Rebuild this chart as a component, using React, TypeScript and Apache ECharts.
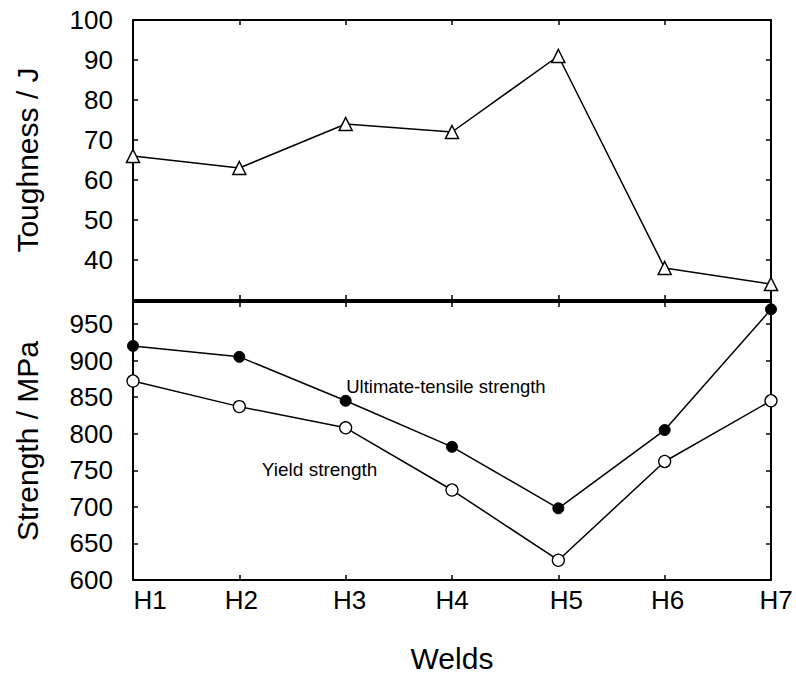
import React, { useEffect, useRef } from "react";
import * as echarts from "echarts";

const categories = ["H1", "H2", "H3", "H4", "H5", "H6", "H7"];
const toughness = [66, 63, 74, 72, 91, 38, 34];
const uts = [920, 905, 845, 782, 698, 805, 970];
const ys = [872, 837, 808, 723, 627, 762, 845];
const toughTicks = [40, 50, 60, 70, 80, 90, 100];
const strengthTicks = [600, 650, 700, 750, 800, 850, 900, 950];

const FONT = "'Liberation Sans', Arial, Helvetica, sans-serif";
// horizontal nudge of the category labels, as left padding (px)
const labelPad: Record<string, number> = { H1: 34, H2: 4, H3: 8, H4: 0, H5: 16, H6: 6, H7: 10 };

export default function App() {
  const ref = useRef<HTMLDivElement>(null);
  useEffect(() => {
    if (!ref.current) return;
    const chart = echarts.init(ref.current, undefined, { renderer: "svg" });
    const line = { color: "#000", width: 2 };
    const tick = { show: true, inside: true, length: 5, lineStyle: { color: "#000", width: 1.5 } };
    const rich: Record<string, any> = {};
    categories.forEach((c, i) => {
      rich["p" + i] = { fontSize: 26, fontFamily: FONT, color: "#000", padding: [0, 0, 0, labelPad[c] || 0] };
    });
    const catAxis = (gridIndex: number, position: string, labels: boolean) => ({
      type: "category",
      gridIndex,
      position,
      data: categories,
      boundaryGap: false,
      axisLine: { show: true, lineStyle: line },
      axisTick: { ...tick, interval: 0 },
      splitLine: { show: false },
      axisLabel: labels
        ? {
            show: true,
            interval: 0,
            hideOverlap: false,
            margin: 7,
            fontSize: 26,
            fontFamily: FONT,
            color: "#000",
            formatter: (v: string) => `{p${categories.indexOf(v)}|${v}}`,
            rich,
          }
        : { show: false },
    });
    const valAxis = (gridIndex: number, position: string, min: number, max: number, interval: number, ticks: number[] | null, name?: string) => ({
      type: "value",
      gridIndex,
      position,
      min,
      max,
      interval,
      axisLine: { show: true, lineStyle: line },
      axisTick: tick,
      splitLine: { show: false },
      axisLabel: ticks
        ? {
            show: true,
            margin: 20,
            fontSize: 26,
            fontFamily: FONT,
            color: "#000",
            formatter: (v: number) => (ticks.indexOf(v) >= 0 ? String(v) : ""),
          }
        : { show: false },
      name: name || "",
      nameLocation: "middle",
      nameGap: 91,
      nameTextStyle: { fontSize: 30, fontFamily: FONT, color: "#000" },
    });
    chart.setOption({
      animation: false,
      backgroundColor: "#fff",
      grid: [
        { left: 133, right: 25, top: 20, height: 280, show: false },
        { left: 133, right: 25, top: 302, height: 280, show: false },
      ],
      xAxis: [
        catAxis(0, "bottom", false),
        catAxis(0, "top", false),
        {
          ...catAxis(1, "bottom", true),
          name: "Welds",
          nameLocation: "middle",
          nameGap: 63,
          nameTextStyle: { fontSize: 30, fontFamily: FONT, color: "#000" },
        },
        catAxis(1, "top", false),
      ],
      yAxis: [
        valAxis(0, "left", 30, 100, 10, toughTicks, "Toughness / J"),
        valAxis(0, "right", 30, 100, 10, null),
        valAxis(1, "left", 600, 980, 50, strengthTicks, "Strength / MPa"),
        valAxis(1, "right", 600, 980, 50, null),
      ],
      series: [
        {
          type: "line",
          name: "Toughness",
          xAxisIndex: 0,
          yAxisIndex: 0,
          data: toughness,
          clip: false,
          symbol: "triangle",
          symbolSize: 13,
          itemStyle: { color: "#fff", borderColor: "#000", borderWidth: 1.5 },
          lineStyle: { color: "#000", width: 1.5 },
        },
        {
          type: "line",
          name: "Ultimate-tensile strength",
          xAxisIndex: 2,
          yAxisIndex: 2,
          data: uts,
          clip: false,
          symbol: "circle",
          symbolSize: 11,
          itemStyle: { color: "#000", borderColor: "#000", borderWidth: 1 },
          lineStyle: { color: "#000", width: 1.5 },
          markPoint: {
            symbol: "circle",
            symbolSize: 1,
            itemStyle: { color: "rgba(0,0,0,0)" },
            label: {
              show: true,
              position: "right",
              distance: 0,
              fontSize: 18.5,
              fontFamily: FONT,
              color: "#000",
              formatter: "Ultimate-tensile strength",
            },
            data: [{ coord: ["H3", 865] }],
          },
        },
        {
          type: "line",
          name: "Yield strength",
          xAxisIndex: 2,
          yAxisIndex: 2,
          data: ys,
          clip: false,
          symbol: "circle",
          symbolSize: 12,
          itemStyle: { color: "#fff", borderColor: "#000", borderWidth: 1.3 },
          lineStyle: { color: "#000", width: 1.5 },
          markPoint: {
            symbol: "circle",
            symbolSize: 1,
            itemStyle: { color: "rgba(0,0,0,0)" },
            label: {
              show: true,
              position: "right",
              distance: 0,
              offset: [22, 0],
              fontSize: 19,
              fontFamily: FONT,
              color: "#000",
              formatter: "Yield strength",
            },
            data: [{ coord: ["H2", 751] }],
          },
        },
      ],
    });
    return () => chart.dispose();
  }, []);
  return (
    <div
      ref={ref}
      style={{ position: "fixed", left: 0, top: 0, width: 796, height: 674, background: "#fff" }}
    />
  );
}
